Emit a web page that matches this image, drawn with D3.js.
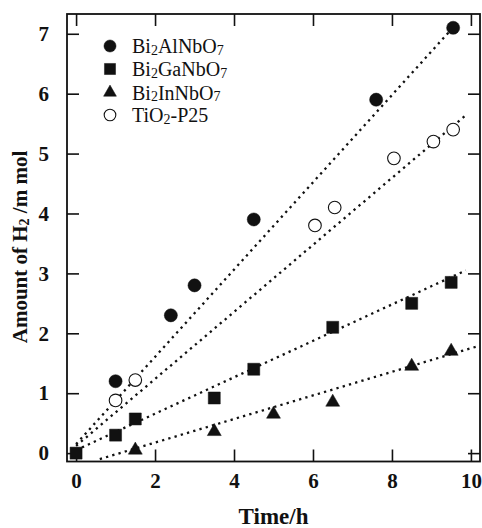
<!DOCTYPE html>
<html>
<head>
<meta charset="utf-8">
<script src="https://cdn.jsdelivr.net/npm/d3@7"></script>
<style>
  body { margin: 0; background: #fff; }
  svg { display: block; font-family: "Liberation Serif", "Times New Roman", serif; }
</style>
</head>
<body>
<div id="chart"></div>
<script>
// values (time in h, H2 in mmol)
var alTime = [1.0, 2.4, 3.0, 4.5, 7.6, 9.55];
var alH2   = [1.2, 2.3, 2.8, 3.9, 5.9, 7.1];
var gaTime = [0, 1.0, 1.5, 3.5, 4.5, 6.5, 8.5, 9.5];
var gaH2   = [0, 0.3, 0.57, 0.92, 1.4, 2.1, 2.5, 2.85];
var inTime = [1.5, 3.5, 5.0, 6.5, 8.5, 9.5];
var inH2   = [0.05, 0.36, 0.65, 0.85, 1.45, 1.7];
var tiTime = [1.0, 1.5, 6.05, 6.55, 8.05, 9.05, 9.55];
var tiH2   = [0.88, 1.22, 3.8, 4.1, 4.92, 5.2, 5.4];

// dotted fit lines, end points
var alFit = [[0, 0.15], [9.72, 7.23]];
var tiFit = [[0, 0.12], [9.87, 5.64]];
var gaFit = [[0, 0.05], [9.87, 3.05]];
var inFit = [[0.6, -0.1], [10.15, 1.78]];

var xTicks = [0, 2, 4, 6, 8, 10];
var yTicks = [0, 1, 2, 3, 4, 5, 6, 7];
// "_" marks the next digit as a subscript
var legendNames = ['Bi_2AlNbO_7', 'Bi_2GaNbO_7', 'Bi_2InNbO_7', 'TiO_2-P25'];

(function(){
var W = 482, H = 528;
var pl = 67, pr = 480, pt = 14, pb = 461.5;

var x = d3.scaleLinear().domain([-0.23, 10.23]).range([pl, pr]);
var y = d3.scaleLinear().domain([-0.14, 7.33]).range([pb, pt]);

var svg = d3.select('#chart').append('svg')
  .attr('width', W)
  .attr('height', H);

svg.append('defs').append('clipPath').attr('id', 'plotclip')
  .append('rect')
  .attr('x', pl).attr('y', pt)
  .attr('width', pr - pl).attr('height', pb - pt);

// ticks, inward on all four sides
var tickLen = 12;
var axB = svg.append('g').attr('transform', 'translate(0,' + pb + ')')
  .call(d3.axisBottom(x).tickValues(xTicks).tickSizeInner(-tickLen).tickSizeOuter(0).tickPadding(22));
var axT = svg.append('g').attr('transform', 'translate(0,' + pt + ')')
  .call(d3.axisTop(x).tickValues(xTicks).tickSizeInner(-tickLen).tickSizeOuter(0).tickFormat(''));
var axL = svg.append('g').attr('transform', 'translate(' + pl + ',0)')
  .call(d3.axisLeft(y).tickValues(yTicks).tickSizeInner(-tickLen).tickSizeOuter(0).tickPadding(18));
var axR = svg.append('g').attr('transform', 'translate(' + pr + ',0)')
  .call(d3.axisRight(y).tickValues(yTicks).tickSizeInner(-tickLen).tickSizeOuter(0).tickFormat(''));

[axB, axT, axL, axR].forEach(function(a){
  a.select('.domain').remove();
  a.selectAll('.tick line').attr('stroke', '#111').attr('stroke-width', 1.6);
  a.selectAll('.tick text')
    .attr('fill', '#111')
    .style('font-family', '"Liberation Serif", serif')
    .style('font-weight', 'bold')
    .style('font-size', '21px');
});
axB.selectAll('.tick text').attr('dy', '0.2em');

// frame
svg.append('rect')
  .attr('x', pl).attr('y', pt)
  .attr('width', pr - pl).attr('height', pb - pt)
  .attr('fill', 'none')
  .attr('stroke', '#111')
  .attr('stroke-width', 1.8);

// fit lines
var line = d3.line().x(function(d){ return x(d[0]); }).y(function(d){ return y(d[1]); });
var fits = svg.append('g').attr('clip-path', 'url(#plotclip)');
[alFit, tiFit, gaFit, inFit].forEach(function(f){
  fits.append('path')
    .attr('d', line(f))
    .attr('fill', 'none')
    .attr('stroke', '#111')
    .attr('stroke-width', 2.3)
    .attr('stroke-dasharray', '2.3,4.2');
});

function zip(xs, ys){ return xs.map(function(v, i){ return [v, ys[i]]; }); }

var series = [
  { pts: zip(alTime, alH2), type: d3.symbolCircle,   size: 135, fill: '#111' },
  { pts: zip(gaTime, gaH2), type: d3.symbolSquare,   size: 144, fill: '#111' },
  { pts: zip(inTime, inH2), type: d3.symbolTriangle, size: 84,  fill: '#111' },
  { pts: zip(tiTime, tiH2), type: d3.symbolCircle,   size: 125, fill: '#fff' }
];

var marks = svg.append('g');
series.forEach(function(s){
  marks.selectAll(null).data(s.pts).enter().append('path')
    .attr('transform', function(d){ return 'translate(' + x(d[0]) + ',' + y(d[1]) + ')'; })
    .attr('d', d3.symbol().type(s.type).size(s.size))
    .attr('fill', s.fill)
    .attr('stroke', '#111')
    .attr('stroke-width', s.fill === '#fff' ? 1.1 : 0.5);
});

// legend
var leg = svg.append('g');
var legY = [46, 69, 92.5, 115];
series.forEach(function(s, i){
  leg.append('path')
    .attr('transform', 'translate(110,' + legY[i] + ')')
    .attr('d', d3.symbol().type(s.type).size(s.size * 0.85))
    .attr('fill', s.fill)
    .attr('stroke', '#111')
    .attr('stroke-width', s.fill === '#fff' ? 1.1 : 0.5);

  var t = leg.append('text')
    .attr('x', 132)
    .attr('y', legY[i] + 7)
    .attr('fill', '#111')
    .style('font-size', '20px');
  var parts = legendNames[i].split(/_(\d)/);
  parts.forEach(function(part, k){
    if (!part) return;
    var isSub = k % 2 === 1;
    t.append('tspan')
      .style('font-size', isSub ? '14px' : '20px')
      .attr('dy', isSub ? 1.5 : (k > 0 ? -1.5 : 0))
      .text(part);
  });
});

// axis titles
svg.append('text')
  .attr('x', x(5))
  .attr('y', 524)
  .attr('text-anchor', 'middle')
  .attr('fill', '#111')
  .style('font-weight', 'bold')
  .style('font-size', '23px')
  .text('Time/h');

var yl = svg.append('text')
  .attr('transform', 'translate(27,247) rotate(-90)')
  .attr('text-anchor', 'middle')
  .attr('fill', '#111')
  .style('font-weight', 'bold')
  .style('font-size', '21px');
yl.append('tspan').text('Amount of H');
yl.append('tspan').style('font-size', '14px').attr('dy', 2).text('2');
yl.append('tspan').attr('dy', -2).text(' /m mol');
})();
</script>
</body>
</html>
